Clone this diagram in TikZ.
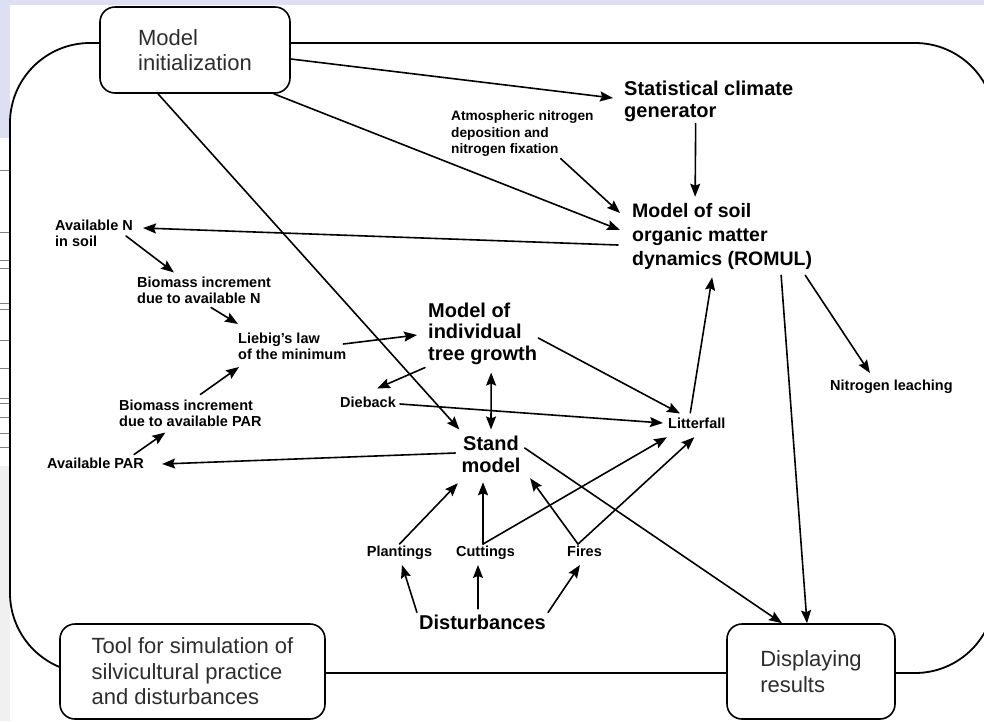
\documentclass[tikz,border=0pt]{standalone}
\usepackage{fontspec}
\setmainfont{Liberation Sans}
\usetikzlibrary{arrows.meta}
\definecolor{lavender}{RGB}{221,224,242}
\definecolor{edgegray}{RGB}{240,240,240}
\definecolor{boxtext}{RGB}{45,45,45}

\begin{document}
\begin{tikzpicture}[line cap=round,line join=round,>={Stealth[length=13pt,width=10pt,inset=2pt]},x=1pt,y=-1pt,
  box/.style={draw,fill=white,line width=1.6pt,rounded corners=15pt,align=left,text=boxtext,font=\fontsize{22}{25.5}\selectfont},
  bigtxt/.style={inner sep=2pt,align=left,font=\bfseries\fontsize{20}{22}\selectfont},
  smalltxt/.style={inner sep=2pt,align=left,font=\bfseries\fontsize{14.5}{16}\selectfont},
  link/.style={->,line width=1.6pt}]
\clip (0,0) rectangle (984,721);
\fill[lavender] (0,0) rectangle (984,721);
\fill[white] (10,5) rectangle (984,721);
\fill[white] (0,138) rectangle (10,466);
\fill[edgegray] (0,466) rectangle (10,721);
\foreach \y in {170,232,260,268,303,309,340,368,398,403,417,433,447}
\draw[gray,line width=0.8pt] (0,\y) -- (9,\y);

\draw[line width=1.8pt,rounded corners=80pt] (10,43) rectangle (995,673);

\node[box,minimum width=190pt,minimum height=86pt] (init) at (195,50) {Model\\initialization};
\node[box,minimum width=265pt,minimum height=95pt] (tool) at (192.5,671.5) {Tool for simulation of\\silvicultural practice\\and disturbances};
\node[box,minimum width=168pt,minimum height=95pt] (show) at (811,671.5) {Displaying\\results};

\node[bigtxt,anchor=west] (stat) at (622,101) {Statistical climate\\generator};
\node[bigtxt,anchor=west,font=\bfseries\fontsize{19.5}{24}\selectfont] (soil) at (630,236) {Model of soil\\organic matter\\dynamics (ROMUL)};
\node[bigtxt,anchor=west,font=\bfseries\fontsize{20}{21.5}\selectfont] (tree) at (426,333.5) {Model of\\individual\\tree growth};
\node[bigtxt,align=center] (stand) at (491,454) {Stand\\model};
\node[bigtxt] (dist) at (482.5,622) {Disturbances};
\node[smalltxt,anchor=west,font=\bfseries\fontsize{13.7}{16.5}\selectfont] (atm) at (449,133.5) {Atmospheric nitrogen\\deposition and\\nitrogen fixation};
\node[smalltxt,anchor=west] (availn) at (53,233) {Available N\\in soil};
\node[smalltxt,anchor=west] (bion) at (135,290) {Biomass increment\\due to available N};
\node[smalltxt,anchor=west] (liebig) at (236,346.5) {Liebig's law\\of the minimum};
\node[smalltxt,anchor=west] (biopar) at (117,413) {Biomass increment\\due to available PAR};
\node[smalltxt,anchor=west] (availpar) at (45,463) {Available PAR};
\node[smalltxt,anchor=west] (dieback) at (338,402) {Dieback};
\node[smalltxt,anchor=west] (litter) at (666,423) {Litterfall};
\node[smalltxt,anchor=west] (leach) at (828,387) {Nitrogen leaching};
\node[smalltxt,text depth=3pt] (plant) at (399.5,553) {Plantings};
\node[smalltxt,text depth=3pt] (cut) at (485.5,553) {Cuttings};
\node[smalltxt,text depth=3pt] (fires) at (584.5,553) {Fires};

\draw[link] ([yshift=-9pt]init.east) -- ([shift={(-9,-3)}]stat.west);
\draw[link] ([xshift=-17pt]init.south east) -- ([shift={(-10,-6)}]soil.west);
\draw[link] ([xshift=-37pt]init.south) -- ([shift={(0,-4)}]stand.north west);
\draw[link] ([xshift=-35pt]atm.south east) -- ([shift={(-10,-23)}]soil.west);
\draw[link] ([xshift=-13pt]stat.south) -- ([shift={(-27,-4)}]soil.north);
\draw[link] ([shift={(-12,9)}]soil.west) -- ([shift={(8,-5)}]availn.east);
\draw[link] ([shift={(-9,3)}]availn.east) -- ([shift={(39,-2)}]bion.north west);
\draw[link] ([shift={(7,2)}]bion.south) -- ([shift={(2,-7)}]liebig.north west);
\draw[link] ([shift={(10,-3)}]biopar.north) -- ([shift={(3,5)}]liebig.south west);
\draw[link] ([shift={(-12,-1)}]availpar.north east) -- ([shift={(-25,4)}]biopar.south);
\draw[link] ([shift={(-4,-1)}]stand.west) -- ([shift={(16,1)}]availpar.east);
\draw[link] ([shift={(-5,-2.5)}]liebig.east) -- ([shift={(-9,1.5)}]tree.west);
\draw[link] ([shift={(-1,1)}]tree.south west) -- ([shift={(9,-6)}]dieback.north);
\draw[link,<->] ([shift={(8.5,6)}]tree.south) -- ([shift={(0,-4)}]stand.north);
\draw[link] ([shift={(-1,4.5)}]tree.east) -- ([shift={(14,-2)}]litter.north west);
\draw[link] ([shift={(2,2)}]dieback.east) -- ([xshift=-3pt]litter.west);
\draw[link] ([shift={(-6.5,-2.7)}]litter.north) -- ([shift={(-10,6)}]soil.south);
\draw[link] ([shift={(-9,4)}]soil.south east) -- ([shift={(-21.5,-5)}]leach.north);
\draw[link] ([shift={(59,4)}]soil.south) -- ([xshift=-4pt]show.north);
\draw[link] ([shift={(2,-6)}]stand.east) -- ([xshift=-29pt]show.north);

\draw[link] ([xshift=-2.5pt]cut.north) -- ([shift={(-8,7.7)}]stand.south);
\draw[link] ([xshift=-2.5pt]cut.north) -- ([shift={(1,6.7)}]litter.south west);
\draw[link] (plant.north) -- ([shift={(-1.5,8.7)}]stand.south west);
\draw[link] ([xshift=-6.5pt]fires.north) -- ([shift={(7.5,3.7)}]stand.south east);
\draw[link] ([xshift=-6.5pt]fires.north) -- ([shift={(-2.5,6.7)}]litter.south);
\draw[link] (dist.north west) -- ([shift={(2.5,3)}]plant.south);
\draw[link] ([shift={(-4.5,-3.7)}]dist.north) -- ([shift={(-7.5,3)}]cut.south);
\draw[link] (dist.north east) -- ([shift={(-4.5,3)}]fires.south);
\end{tikzpicture}
\end{document}
